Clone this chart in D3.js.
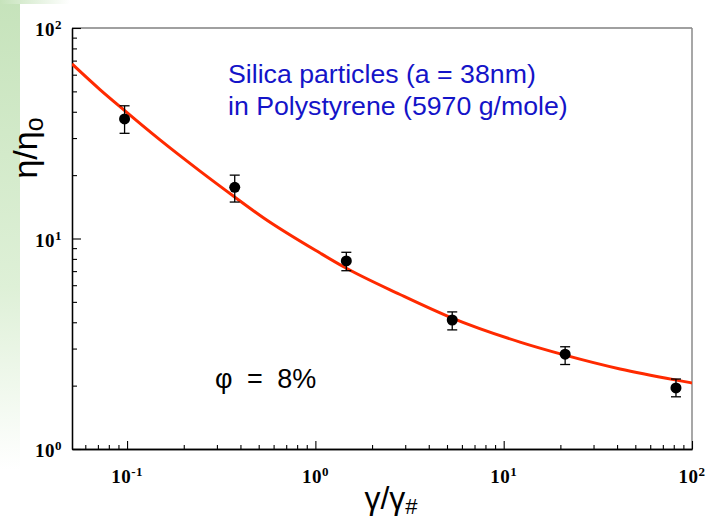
<!DOCTYPE html>
<html><head><meta charset="utf-8">
<script src="https://cdn.jsdelivr.net/npm/d3@7"></script>
<style>html,body{margin:0;padding:0;background:#fff;}svg{display:block;}</style>
</head><body>
<script>
// ---- data ----
const shearRate = [0.097, 0.373, 1.46, 5.33, 21.2, 82.2];
const viscosity = [37.0, 17.5, 7.82, 4.10, 2.82, 1.95];
const errHigh   = [42.7, 20.0, 8.6, 4.48, 3.06, 2.15];
const errLow    = [31.6, 14.9, 7.03, 3.68, 2.52, 1.77];
const fitX = [0.051, 0.0718, 0.0917, 0.1496, 0.244, 0.3697, 0.527, 1.059, 1.437, 2.815, 5.25, 12.21, 20.92, 41.5, 81.3, 100];
const fitY = [67.5, 51.0, 42.3, 29.4, 20.9, 15.83, 12.58, 8.53, 7.28, 5.42, 4.21, 3.22, 2.80, 2.40, 2.13, 2.06];
const xMajor = [0.1, 1, 10, 100];
const xMajorExp = ["-1", "0", "1", "2"];
const yMajor = [1, 10, 100];
const yMajorExp = ["0", "1", "2"];
const noteLines = ["Silica particles (a = 38nm)", "in Polystyrene (5970 g/mole)"];
const phiLabel = "φ = 8%";

const W = 711, H = 522;
const L = 72, R = 692, T = 28, B = 449;
const svg = d3.select("body").append("svg").attr("width", W).attr("height", H);

// background (slide strip)
const defs = svg.append("defs");
const gv = defs.append("linearGradient").attr("id","gv").attr("x1",0).attr("y1",0).attr("x2",0).attr("y2",1);
gv.append("stop").attr("offset","0").attr("stop-color","#c6e3bb");
gv.append("stop").attr("offset","0.55").attr("stop-color","#def0d7");
gv.append("stop").attr("offset","0.9").attr("stop-color","#ffffff");
const gh = defs.append("linearGradient").attr("id","gh").attr("x1",0).attr("y1",0).attr("x2",1).attr("y2",0);
gh.append("stop").attr("offset","0").attr("stop-color","#c6e3bb");
gh.append("stop").attr("offset","1").attr("stop-color","#ffffff");
svg.append("rect").attr("x",0).attr("y",0).attr("width",20).attr("height",H).attr("fill","url(#gv)");
svg.append("rect").attr("x",0).attr("y",0).attr("width",70).attr("height",4).attr("fill","url(#gh)");

const x = d3.scaleLog().domain([0.051, 100]).range([L, R]);
const y = d3.scaleLog().domain([1, 100]).range([B, T]);

function minors(lo, hi) {
  const out = [];
  for (let e = lo; e < hi; e++) for (let k = 2; k <= 9; k++) out.push(k * Math.pow(10, e));
  return out;
}
const xMinor = minors(-2, 2).filter(v => v >= 0.051 && v <= 100);
const yMinor = minors(0, 2);

// frame: top and right grey
svg.append("line").attr("x1",L).attr("x2",R).attr("y1",T).attr("y2",T).attr("stroke","#808080").attr("stroke-width",1.5);
svg.append("line").attr("x1",R).attr("x2",R).attr("y1",T).attr("y2",B).attr("stroke","#8a8a8a").attr("stroke-width",1.5);

// axes
function styleAxis(g){ g.select(".domain").attr("stroke","#000").attr("stroke-width",1.3); g.selectAll(".tick line").attr("stroke","#000").attr("stroke-width",1.1); g.selectAll("text").remove(); }
svg.append("g").attr("transform",`translate(0,${B})`)
  .call(d3.axisBottom(x).tickValues(xMinor).tickSize(-4).tickSizeOuter(0).tickFormat(""))
  .call(styleAxis);
svg.append("g").attr("transform",`translate(0,${B})`)
  .call(d3.axisBottom(x).tickValues(xMajor).tickSize(-8).tickSizeOuter(0).tickFormat(""))
  .call(styleAxis);
svg.append("g").attr("transform",`translate(${L},0)`)
  .call(d3.axisLeft(y).tickValues(yMinor).tickSize(-5).tickSizeOuter(0).tickFormat(""))
  .call(styleAxis);
svg.append("g").attr("transform",`translate(${L},0)`)
  .call(d3.axisLeft(y).tickValues(yMajor).tickSize(-9).tickSizeOuter(0).tickFormat(""))
  .call(styleAxis);

// tick labels
const tf = "'Liberation Serif','Times New Roman',serif";
const xl = svg.append("g").selectAll("text").data(xMajor).join("text")
  .attr("x", d => x(d)).attr("y", 483).attr("text-anchor","middle")
  .attr("font-family", tf).attr("font-weight","bold").attr("font-size",19).attr("letter-spacing",0.5);
xl.append("tspan").text("10");
xl.append("tspan").attr("dy",-7).attr("font-size",13).text((d,i)=>xMajorExp[i]);

const yl = svg.append("g").selectAll("text").data(yMajor).join("text")
  .attr("x", 62).attr("y", d => y(d) + 8).attr("text-anchor","end")
  .attr("font-family", tf).attr("font-weight","bold").attr("font-size",19).attr("letter-spacing",0.5);
yl.append("tspan").text("10");
yl.append("tspan").attr("dy",-7).attr("font-size",13).text((d,i)=>yMajorExp[i]);

// fit curve
svg.append("clipPath").attr("id","clip").append("rect").attr("x",L).attr("y",T).attr("width",R-L).attr("height",B-T);
const line = d3.line().x(d => x(d[0])).y(d => y(d[1])).curve(d3.curveMonotoneX);
svg.append("path").datum(fitX.map((v,i)=>[v, fitY[i]]))
  .attr("d", line).attr("fill","none").attr("stroke","#ff2a00").attr("stroke-width",3)
  .attr("clip-path","url(#clip)");

// error bars and points
const pts = shearRate.map((v,i)=>({x:v, y:viscosity[i], hi:errHigh[i], lo:errLow[i]}));
const eb = svg.append("g").attr("stroke","#000").attr("stroke-width",1.3);
pts.forEach(p => {
  eb.append("line").attr("x1",x(p.x)).attr("x2",x(p.x)).attr("y1",y(p.hi)).attr("y2",y(p.lo));
  eb.append("line").attr("x1",x(p.x)-5).attr("x2",x(p.x)+5).attr("y1",y(p.hi)).attr("y2",y(p.hi));
  eb.append("line").attr("x1",x(p.x)-5).attr("x2",x(p.x)+5).attr("y1",y(p.lo)).attr("y2",y(p.lo));
});
svg.append("g").selectAll("circle").data(pts).join("circle")
  .attr("cx", d => x(d.x)).attr("cy", d => y(d.y)).attr("r", 5.5).attr("fill","#000");

// annotations
const sf = "'Liberation Sans',Arial,sans-serif";
svg.append("g").selectAll("text").data(noteLines).join("text")
  .attr("x", 228).attr("y", (d,i) => 83 + i*32)
  .attr("font-family", sf).attr("font-size", 26.7).attr("fill","#1414c8").text(d => d);
svg.append("text").attr("x",215).attr("y",388).attr("font-family",sf).attr("font-size",27)
  .attr("fill","#000").attr("word-spacing",7).text(phiLabel);

// axis titles
const yt = svg.append("text").attr("transform","translate(37,148) rotate(-90)").attr("text-anchor","middle")
  .attr("font-family",sf).attr("font-size",34).attr("fill","#000");
yt.append("tspan").text("η/η");
yt.append("tspan").attr("dy",6).attr("font-size",25).text("o");

const xt = svg.append("text").attr("x",391).attr("y",509).attr("text-anchor","middle")
  .attr("font-family",sf).attr("font-size",32).attr("fill","#000");
xt.append("tspan").text("γ/γ");
xt.append("tspan").attr("dy",5).attr("font-size",22).text("#");
</script>
</body></html>
